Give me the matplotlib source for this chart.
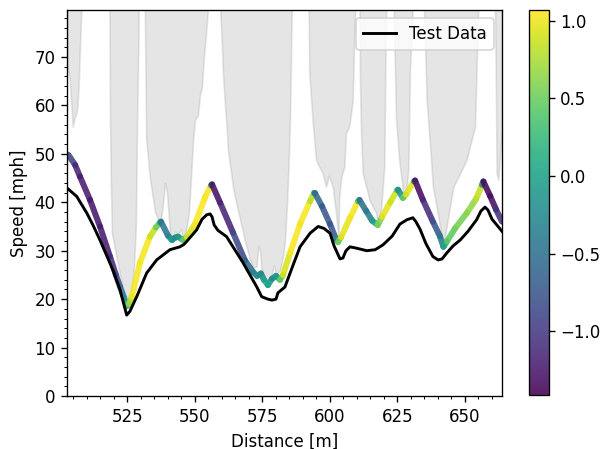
# speed_profile_vs_test.py
# Simulated speed profile (coloured by acceleration) vs. test data,
# with the curvature speed limit shaded in grey.

import numpy as np
import matplotlib
matplotlib.use("Agg")
import matplotlib.pyplot as plt
from matplotlib.collections import LineCollection
from matplotlib.ticker import MultipleLocator

# ------------- Data -------------
# curvature speed limit; 100 = no limit (straight)
lim_x = [502.8, 503.6, 504.3, 504.8, 505.5, 506.0, 506.5, 507.0, 507.5, 508.0, 508.3,
         518.1, 518.4, 518.6, 518.9, 519.3, 522.3, 524.9, 526.4, 527.5, 528.2, 528.6, 529.2, 529.4,
         531.3, 531.6, 532.0, 533.4, 535.3, 536.4, 537.5, 538.3, 539.0, 539.7, 540.8, 541.6,
         542.7, 543.8, 544.9, 545.6, 546.7, 547.8, 548.6, 549.4, 550.1, 551.2, 551.9, 552.7,
         553.4, 554.2, 554.9, 555.1,
         559.2, 559.4, 560.0, 560.5, 561.2, 561.8, 562.3, 564.2, 565.3, 566.8, 568.6, 570.5,
         571.6, 572.9, 573.6, 574.2, 574.7, 575.3, 576.4, 577.1, 578.2, 579.3, 580.1, 581.6,
         582.7, 583.4, 584.2, 584.9, 585.3, 585.9, 586.2,
         592.0, 592.2, 592.4, 593.0, 593.7, 594.9, 596.1, 597.4, 598.6, 599.7, 601.1, 602.3,
         603.2, 603.5, 604.2, 605.4, 606.0, 607.2, 608.5, 609.1, 609.5, 609.7,
         610.8, 611.0, 611.2, 611.6, 612.2, 613.5, 614.7, 616.0, 617.2, 617.8, 619.0, 620.2,
         620.6, 620.9, 621.0,
         623.5, 623.7, 624.5, 625.7, 627.0, 627.2, 628.5, 629.1, 629.7, 630.7, 630.9,
         634.7, 634.9, 635.9, 637.1, 638.2, 639.6, 640.8, 642.1, 643.9, 645.8, 648.3, 650.7,
         652.6, 653.8, 654.4, 655.0, 655.2,
         661.0, 661.2, 661.6, 661.8, 662.4, 663.1, 663.8]
lim_y = [68, 66, 60, 55.6, 57.5, 58, 59.5, 64, 72, 80, 100,
         100, 80, 58, 45, 33.7, 25, 18.6, 20.5, 27, 35, 55, 75, 100,
         100, 75, 53, 45, 38, 36.5, 36.5, 40, 44, 42, 34, 32.2,
         34, 33.2, 34.5, 32.3, 34, 37.5, 45, 53, 57, 58, 62, 64,
         70, 75, 80, 100,
         100, 80, 73, 66, 60, 55.6, 50.8, 43, 40, 36.4, 32, 28.1,
         26.5, 26.7, 31, 30, 26, 25.4, 24, 23, 24.5, 27, 25, 26,
         29, 32, 40, 50, 57.7, 78.4, 100,
         100, 80, 67, 62, 56.4, 48.8, 47.3, 46, 43.2, 45.5, 43.2, 37.8,
         32.5, 41, 45, 47.3, 54.3, 55.6, 61, 75, 80, 100,
         100, 80, 65, 54, 46, 43.2, 40.5, 39, 37.8, 35.5, 38.4, 47.3,
         68, 80, 100,
         100, 80, 57.7, 48.8, 43, 41, 43, 47, 67, 80, 100,
         100, 80, 61, 52, 43.2, 39, 35, 31.2, 37, 43.2, 46, 48.8,
         53, 55.6, 68, 80, 100,
         100, 80, 60, 46, 44.6, 50, 55]

# simulated speed profile [mph] and its acceleration (colour)
prof_x = [503.2, 505.7, 507.5, 511.2, 514.9, 518.6, 520.8, 522.3, 523.8, 524.9,
          525.6, 526.7, 529.7, 533.4, 535.6, 537.1, 537.5,
          540.1, 541.6, 542.7, 543.8, 545.6,
          547.1, 550.1, 553.8, 556.0, 556.4,
          559.4, 564.2, 568.6, 571.6, 573.1, 574.5, 575.6, 577.1, 578.6, 580.1, 581.6,
          582.7, 585.3, 589.0, 592.7, 594.2, 594.5,
          597.1, 600.1, 602.3, 603.1,
          604.2, 607.5, 610.5, 611.0,
          613.5, 615.7, 617.8,
          619.4, 622.4, 625.0, 625.3,
          627.1, 628.2, 631.2, 631.6,
          634.5, 638.2, 640.8, 642.1,
          643.4, 646.4, 650.8, 654.2, 656.4, 656.9,
          659.4, 661.6, 663.8]
prof_v = [49.8, 47.7, 45.3, 40.5, 35.0, 28.8, 25.0, 22.6, 20.3, 18.6,
          19.0, 20.5, 27.5, 32.9, 34.8, 35.8, 36.0,
          33.1, 32.2, 32.7, 32.9, 32.2,
          32.8, 35.5, 41.0, 43.5, 43.7,
          39.9, 33.7, 28.0, 25.6, 24.8, 25.3, 24.0, 22.9, 24.2, 24.8, 24.0,
          25.0, 29.5, 35.5, 40.2, 41.9, 41.9,
          39.2, 35.5, 32.4, 31.8,
          32.8, 36.8, 40.2, 40.5,
          38.2, 36.2, 35.3,
          37.0, 40.0, 42.5, 42.6,
          40.9, 41.6, 44.3, 44.5,
          40.5, 36.0, 33.0, 30.8,
          31.9, 34.6, 37.8, 40.7, 43.6, 44.3,
          41.3, 38.5, 36.0]
prof_a = [-0.8, -1.1, -1.2, -1.25, -1.25, -1.2, -1.0, -0.7, -0.3, 0.0,
          0.5, 1.0, 1.05, 1.0, 0.7, 0.3, -0.4,
          -0.5, 0.0, -0.2, -0.3, 0.2,
          0.8, 1.05, 1.07, 1.0, -1.3,
          -1.3, -1.0, -0.7, -0.5, 0.0, -0.4, -0.1, 0.2, -0.2, -0.3, 0.2,
          0.8, 1.05, 1.05, 1.0, 0.6, -0.6,
          -0.6, -0.9, -0.6, 0.2,
          0.9, 1.05, 1.0, -0.5,
          -0.5, -0.3, 0.3,
          0.9, 1.05, 0.7, -0.4,
          0.1, 0.9, 1.0, -1.35,
          -1.3, -0.9, -0.6, -0.2,
          0.3, 0.6, 0.5, 0.8, 0.9, -1.3,
          -1.41, -1.2, -0.9]

# measured test data [mph]
test_x = [503.2, 506.3, 510.0, 512.3, 514.9, 519.7, 522.3, 524.8, 526.0, 528.5, 532.2,
          535.9, 540.8, 544.5, 546.0, 547.0, 550.7, 552.7, 554.4, 555.7, 556.4, 557.2,
          558.6, 561.8, 567.9, 572.9, 574.8, 577.1, 578.6, 580.1, 580.8, 583.4, 586.4,
          589.0, 592.7, 595.7, 597.9, 600.1, 601.6, 603.8, 604.9, 606.0, 607.5, 610.1,
          613.7, 616.8, 619.7, 623.1, 626.0, 628.6, 630.8, 631.9, 633.4, 635.6, 638.2,
          640.1, 641.6, 643.3, 645.7, 648.3, 651.2, 654.4, 656.0, 657.5, 658.6, 660.1,
          661.6, 663.8]
test_v = [42.7, 41.2, 37.8, 35.3, 32.2, 26.0, 22.0, 16.7, 17.5, 20.5, 25.4,
          28.1, 30.2, 30.8, 31.3, 31.9, 34.3, 36.5, 37.4, 37.6, 37.0, 35.3,
          34.2, 32.9, 27.5, 22.6, 20.5, 20.0, 19.8, 20.0, 21.3, 22.5, 27.0,
          30.8, 33.6, 35.0, 34.6, 33.6, 31.0, 28.3, 28.5, 30.0, 30.8, 30.5,
          30.0, 30.2, 31.2, 33.0, 35.5, 36.4, 36.8, 36.0, 34.5, 31.5, 28.8,
          28.1, 28.3, 29.5, 31.0, 32.2, 34.0, 36.4, 38.2, 39.0, 38.4, 36.5,
          35.5, 34.0]

# ------------- Plot -------------
DPI = 120
fig = plt.figure(figsize=(603 / DPI, 449 / DPI), dpi=DPI)
ax = fig.add_axes([67.3 / 603, 53 / 449, 434.7 / 603, 386 / 449])
cax = fig.add_axes([528.5 / 603, 54 / 449, 20 / 603, 385 / 449])

# speed limit from curvature
ax.fill_between(lim_x, lim_y, 100, color="gray", alpha=0.2)

# speed profile coloured by acceleration
a = np.array(prof_a)
pts = np.column_stack([prof_x, prof_v])
segs = np.stack([pts[:-1], pts[1:]], axis=1)
lc = LineCollection(segs, cmap="viridis", norm=plt.Normalize(a.min(), a.max()),
                    linewidths=3.6, capstyle="round", joinstyle="round", alpha=0.88)
lc.set_array((a[:-1] + a[1:]) / 2)
ax.add_collection(lc)

ax.plot(test_x, test_v, color="black", lw=1.75, label="Test Data")

ax.set_xlim(502.8, 663.8)
ax.set_ylim(0, 79.7)
ax.xaxis.set_minor_locator(MultipleLocator(5))
ax.yaxis.set_minor_locator(MultipleLocator(2))
ax.set_xlabel("Distance [m]")
ax.set_ylabel("Speed [mph]")
ax.legend(loc="upper right")

fig.colorbar(lc, cax=cax)

fig.savefig("out.png", dpi=DPI)
